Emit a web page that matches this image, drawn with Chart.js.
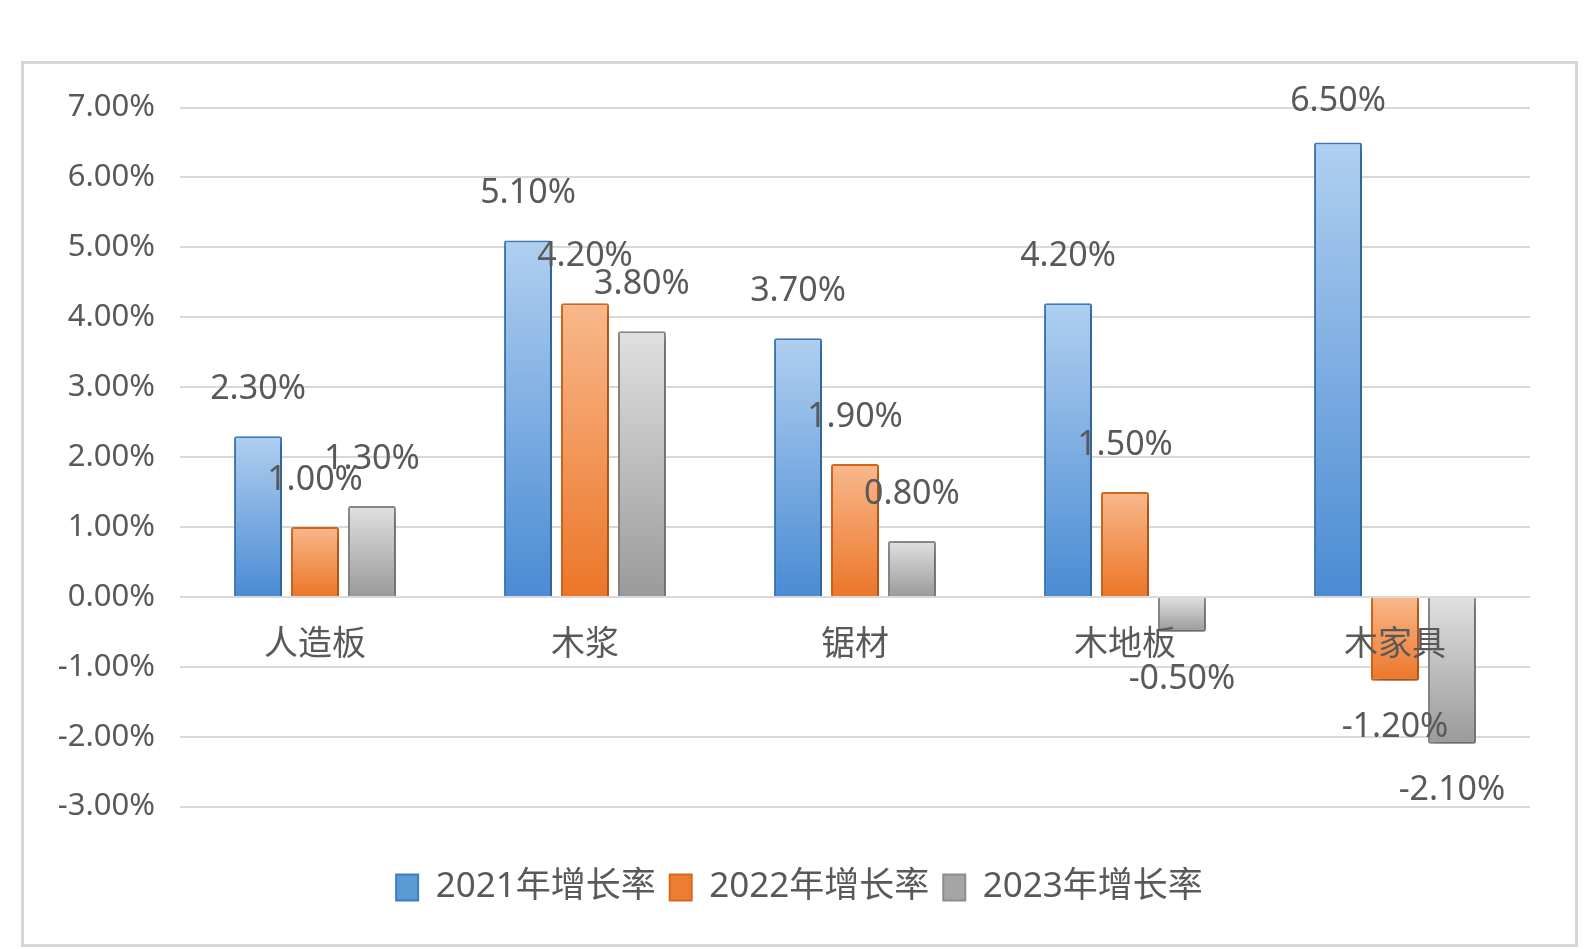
<!DOCTYPE html>
<html>
<head>
<meta charset="utf-8">
<script src="https://cdn.jsdelivr.net/npm/chart.js@4"></script>
<style>
    body { margin: 0; background: #fff; }
    #frame {
        position: absolute;
        left: 21px;
        top: 61px;
        width: 1551px;
        height: 880px;
        border: 3px solid #d6d6d6;
    }
</style>
</head>
<body>
<div id="frame"><canvas id="myChart" width="1551" height="880"></canvas></div>
<script>
// data
const categories = ['人造板', '木浆', '锯材', '木地板', '木家具'];
const seriesNames = ['2021年增长率', '2022年增长率', '2023年增长率'];
const growth2021 = [2.3, 5.1, 3.7, 4.2, 6.5];
const growth2022 = [1.0, 4.2, 1.9, 1.5, -1.2];
const growth2023 = [1.3, 3.8, 0.8, -0.5, -2.1];
const yTicks = [-3, -2, -1, 0, 1, 2, 3, 4, 5, 6, 7];

const fontFamily = '"Noto Sans", "Noto Sans CJK SC", sans-serif';
const textColor = '#595959';

// top-to-bottom gradient for each bar
function barFill(light, dark) {
    return (c) => {
        const chart = c.chart;
        if (c.type !== 'data' || !chart.chartArea) return dark;
        const y = chart.scales.y;
        const v = c.raw;
        const top = y.getPixelForValue(Math.max(v, 0));
        const bottom = y.getPixelForValue(Math.min(v, 0));
        const g = chart.ctx.createLinearGradient(0, top, 0, bottom);
        g.addColorStop(0, light);
        g.addColorStop(1, dark);
        return g;
    };
}

// soft shadow under the bars, value labels drawn afterwards
const barShadow = {
    id: 'barShadow',
    beforeDatasetsDraw(chart) {
        const ctx = chart.ctx;
        ctx.save();
        ctx.shadowColor = 'rgba(0,0,0,0.3)';
        ctx.shadowBlur = 10;
        ctx.shadowOffsetX = 3;
        ctx.shadowOffsetY = 5;
    },
    afterDatasetsDraw(chart) {
        const ctx = chart.ctx;
        ctx.restore();
        ctx.save();
        ctx.font = '34px ' + fontFamily;
        ctx.fillStyle = textColor;
        ctx.textAlign = 'center';
        ctx.textBaseline = 'middle';
        const topLimit = chart.chartArea.top - 6;
        chart.data.datasets.forEach((ds, i) => {
            chart.getDatasetMeta(i).data.forEach((bar, j) => {
                const v = ds.data[j];
                let y = v >= 0 ? bar.y - 47 : bar.y + 47;
                if (y < topLimit) y = topLimit;
                ctx.fillText(v.toFixed(2) + '%', bar.x, y);
            });
        });
        ctx.restore();
    }
};

const ctx = document.getElementById('myChart').getContext('2d');

new Chart(ctx, {
    type: 'bar',
    data: {
        labels: categories,
        datasets: [{
            label: seriesNames[0],
            data: growth2021,
            backgroundColor: barFill('#b0cff0', '#4a8bd3'),
            borderColor: '#3f7dc0',
            legendFill: '#5b9bd5'
        }, {
            label: seriesNames[1],
            data: growth2022,
            backgroundColor: barFill('#f8b88c', '#ec7628'),
            borderColor: '#d8691c',
            legendFill: '#ed7d31'
        }, {
            label: seriesNames[2],
            data: growth2023,
            backgroundColor: barFill('#e0e0e0', '#9a9a9a'),
            borderColor: '#8c8c8c',
            legendFill: '#a5a5a5'
        }]
    },
    options: {
        responsive: false,
        animation: false,
        datasets: {
            bar: {
                categoryPercentage: 0.633,
                barPercentage: 0.842,
                borderWidth: 2,
                borderRadius: 2
            }
        },
        layout: {
            padding: { top: 43, right: 0, bottom: 29, left: 0 }
        },
        scales: {
            x: {
                position: { y: 0 },
                grid: { display: false },
                border: { display: false },
                ticks: {
                    z: 1,
                    color: textColor,
                    font: { family: fontFamily, size: 34 },
                    padding: 20
                },
                afterFit: (scale) => { scale.height = 0; }
            },
            y: {
                min: -3,
                max: 7,
                afterBuildTicks: (scale) => {
                    scale.ticks = yTicks.map(v => ({ value: v }));
                },
                afterFit: (scale) => { scale.width = 156; },
                grid: {
                    color: '#d9d9d9',
                    lineWidth: 2,
                    drawTicks: false
                },
                border: { display: false },
                ticks: {
                    color: textColor,
                    font: { family: fontFamily, size: 31 },
                    padding: 25,
                    callback: (v) => v.toFixed(2) + '%'
                }
            },
            // empty right margin so the legend stays centred on the frame
            yRight: {
                position: 'right',
                grid: { display: false },
                border: { display: false },
                ticks: { display: false },
                afterFit: (scale) => { scale.width = 45; }
            }
        },
        plugins: {
            tooltip: { enabled: false },
            legend: {
                position: 'bottom',
                title: {
                    display: true,
                    text: '',
                    font: { size: 12 },
                    padding: { top: 35, bottom: 0 }
                },
                labels: {
                    color: textColor,
                    font: { family: fontFamily, size: 35 },
                    boxWidth: 22,
                    boxHeight: 26,
                    padding: 14,
                    generateLabels: (chart) => chart.data.datasets.map((ds, i) => ({
                        text: ds.label,
                        fillStyle: ds.legendFill,
                        strokeStyle: ds.borderColor,
                        lineWidth: 2,
                        fontColor: textColor,
                        hidden: false,
                        datasetIndex: i
                    }))
                }
            }
        }
    },
    plugins: [barShadow]
});
</script>
</body>
</html>
